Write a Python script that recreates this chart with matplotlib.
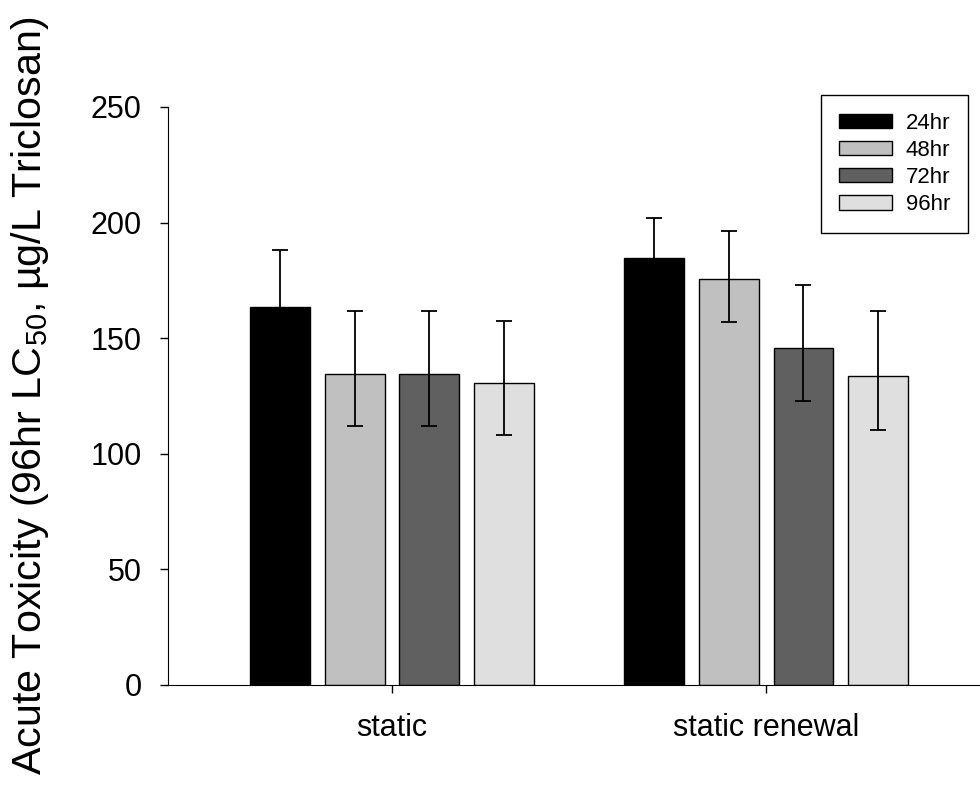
import numpy as np
import matplotlib
matplotlib.use('Agg')
import matplotlib.pyplot as plt

plt.rcParams['font.family'] = ['Liberation Sans', 'DejaVu Sans']
plt.rcParams['mathtext.fontset'] = 'custom'
plt.rcParams['mathtext.rm'] = 'Liberation Sans'
plt.rcParams['mathtext.it'] = 'Liberation Sans:italic'

# values
groups = ['static', 'static renewal']
series = ['24hr', '48hr', '72hr', '96hr']
means = np.array([[163.6, 134.6, 134.6, 130.6],
                  [184.8, 175.6, 145.9, 133.7]])
upper = np.array([[188.1, 161.8, 161.8, 157.4],
                  [202.0, 196.4, 173.0, 161.8]])
lower = np.array([[141.0, 112.0, 112.0, 108.3],
                  [167.0, 157.0, 123.0, 110.4]])
colors = ['#000000', '#c0c0c0', '#606060', '#dfdfdf']

fig = plt.figure(figsize=(9.8, 7.93), dpi=100)
ax = fig.add_axes([0.1714, 0.1362, 0.8286, 0.7289])

x = np.arange(len(groups))
width = 0.16
offsets = [-0.3, -0.1, 0.1, 0.3]
for i in range(len(series)):
    ax.bar(x + offsets[i], means[:, i], width, color=colors[i],
           edgecolor='black', linewidth=1.0, label=series[i], zorder=2)
    yerr = [means[:, i] - lower[:, i], upper[:, i] - means[:, i]]
    ax.errorbar(x + offsets[i], means[:, i], yerr=yerr, fmt='none',
                ecolor='black', elinewidth=1.3, capsize=6, capthick=1.3, zorder=3)

ax.set_xlim(-0.599, 1.572)
ax.set_ylim(0, 250)
ax.set_yticks([0, 50, 100, 150, 200, 250])
ax.set_xticks(x)
ax.set_xticklabels(groups)
ax.spines['top'].set_visible(False)
ax.spines['right'].set_visible(False)
ax.tick_params(axis='y', direction='out', length=6, width=1, pad=13, labelsize=22)
ax.tick_params(axis='x', direction='out', length=6, width=1, pad=14, labelsize=22)
ax.set_ylabel('Acute Toxicity (96hr LC$_{\\mathrm{50}}$, µg/L Triclosan)', fontsize=29.7, labelpad=28)

leg = ax.legend(loc='upper right', bbox_to_anchor=(0.985, 1.021), borderaxespad=0,
                fontsize=16, frameon=True, fancybox=False, edgecolor='black', framealpha=1,
                handlelength=2.4, handleheight=0.6, borderpad=0.8, labelspacing=0.28,
                handletextpad=0.6)
leg.get_frame().set_linewidth(1.0)

fig.savefig('out.png', dpi=100)
